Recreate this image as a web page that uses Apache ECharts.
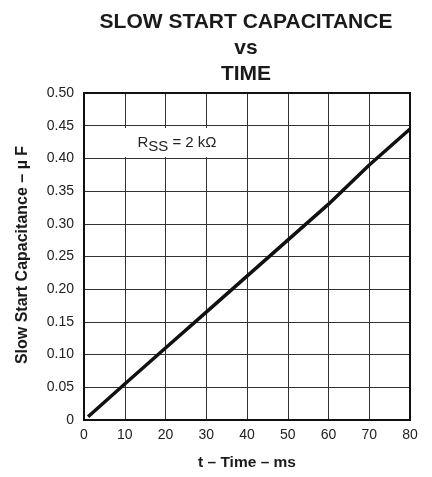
<!DOCTYPE html>
<html><head><meta charset="utf-8">
<script src="https://cdn.jsdelivr.net/npm/echarts@6/dist/echarts.min.js"></script>
<style>html,body{margin:0;padding:0;background:#fff}#c{width:432px;height:477px}</style>
</head><body><div id="c"></div>
<script>
const timeMs = [1, 10, 20, 30, 40, 50, 60, 70, 80];
const capUF = [0.005, 0.055, 0.11, 0.165, 0.22, 0.275, 0.33, 0.39, 0.445];
const xTicks = [0, 10, 20, 30, 40, 50, 60, 70, 80];
const yTicks = ['0', '0.05', '0.10', '0.15', '0.20', '0.25', '0.30', '0.35', '0.40', '0.45', '0.50'];

const font = '"Liberation Sans", Arial, sans-serif';
const chart = echarts.init(document.getElementById('c'));
chart.setOption({
  animation: false,
  title: {
    text: 'SLOW START CAPACITANCE\nvs\nTIME',
    left: 241, textAlign: 'center', top: 4,
    textStyle: { fontFamily: font, fontSize: 21, fontWeight: 'bold', color: '#1a1a1a', lineHeight: 26 }
  },
  grid: { left: 84, right: 22, top: 93, bottom: 57 },
  xAxis: {
    type: 'value', min: 0, max: 80, interval: 10,
    name: 't – Time – ms', nameLocation: 'middle', nameGap: 35,
    nameTextStyle: { fontFamily: font, fontSize: 15.5, fontWeight: 'bold', color: '#1a1a1a' },
    axisLine: { show: false },
    axisTick: { show: false },
    axisLabel: { fontFamily: font, fontSize: 14, color: '#222', margin: 8,
      formatter: v => xTicks.includes(v) ? String(v) : '' },
    splitLine: { show: true, lineStyle: { color: '#333', width: 1 } }
  },
  yAxis: {
    type: 'value', min: 0, max: 0.5, interval: 0.05,
    axisLine: { show: false },
    axisTick: { show: false },
    axisLabel: { fontFamily: font, fontSize: 14, color: '#222', margin: 10,
      formatter: v => yTicks[Math.round(v / 0.05)] },
    splitLine: { show: true, lineStyle: { color: '#333', width: 1 } }
  },
  series: [{
    type: 'line', data: timeMs.map((t, i) => [t, capUF[i]]),
    showSymbol: false, lineStyle: { color: '#111', width: 3.5 }, z: 5
  }],
  graphic: [
    { type: 'rect', z: 10, shape: { x: 86, y: 128, width: 157, height: 29 }, style: { fill: '#fff' } },
    { type: 'rect', z: 20, shape: { x: 84, y: 93, width: 326, height: 327 },
      style: { fill: 'none', stroke: '#111', lineWidth: 2 } },
    { type: 'text', z: 11, x: 177, y: 143, style: {
      text: 'R{s|SS} = 2 kΩ', align: 'center', verticalAlign: 'middle',
      fontFamily: font, fontSize: 15, fill: '#222',
      rich: { s: { fontFamily: font, fontSize: 15, fill: '#222', padding: [7, 0, 0, 0] } }
    } },
    { type: 'text', z: 11, x: 23, y: 255, rotation: Math.PI / 2, style: {
      text: 'Slow Start Capacitance – µ F', align: 'center', verticalAlign: 'middle',
      fontFamily: font, fontSize: 16, fontWeight: 'bold', fill: '#1a1a1a'
    } }
  ]
});
</script></body></html>
